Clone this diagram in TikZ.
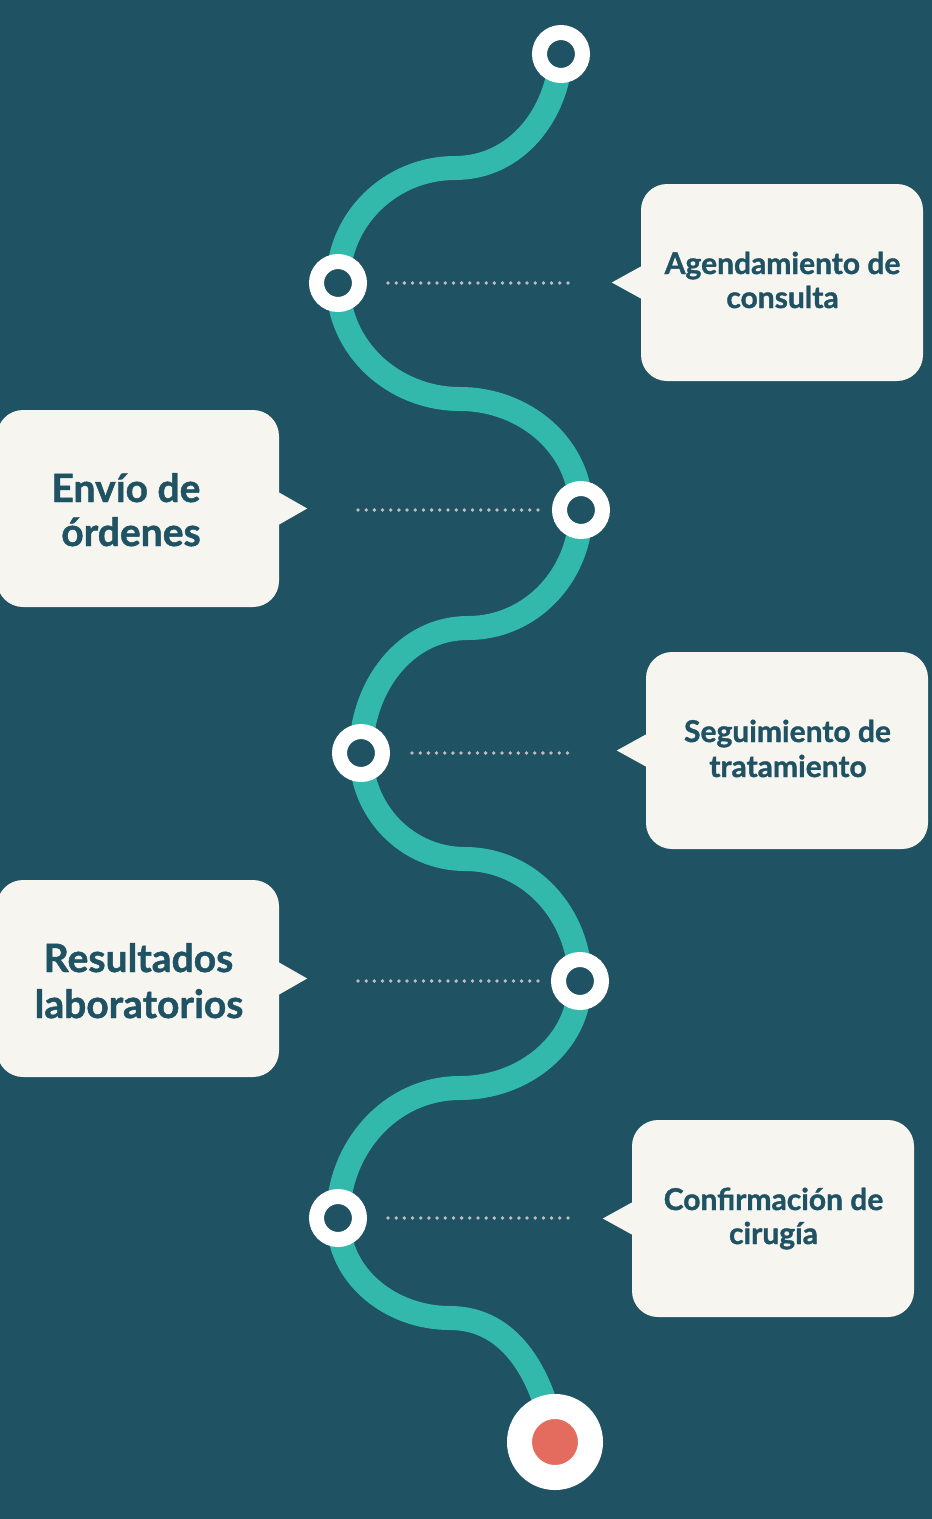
\documentclass[tikz,border=0pt]{standalone}
\usepackage{fontspec}
\newfontfamily\lblfont{Lato}[BoldFeatures={FakeBold=1.2}]
\definecolor{bgc}{HTML}{1F5263}
\definecolor{trackc}{HTML}{33B9AB}
\definecolor{boxc}{HTML}{F7F5F0}
\definecolor{txtc}{HTML}{1F5263}
\definecolor{dotc}{HTML}{BDBDBD}
\definecolor{redc}{HTML}{E46C5F}
\tikzset{
  track/.style={draw=trackc, line width=24pt, line cap=round},
  ring/.style={circle, fill=bgc, draw=white, line width=15pt, minimum size=43pt, inner sep=0pt},
  endring/.style={circle, fill=redc, draw=white, line width=25pt, minimum size=71pt, inner sep=0pt},
  dots/.style={draw=dotc, line width=3.8pt, line cap=round, dash pattern=on 0pt off 8.18pt},
  callout/.style={fill=boxc, rounded corners=26pt, inner sep=0pt, minimum width=282pt, minimum height=197pt},
  rtxt/.style={text=txtc, inner sep=0pt, anchor=base, font=\lblfont\bfseries\fontsize{30}{34}\selectfont},
  ltxt/.style={text=txtc, inner sep=0pt, anchor=base, font=\lblfont\bfseries\fontsize{39}{45}\selectfont},
}
\begin{document}
\begin{tikzpicture}[x=1pt,y=1pt]
\useasboundingbox (0,0) rectangle (932,-1519);
\fill[bgc] (0,0) rectangle (932,-1519);

% path points
\coordinate (c0) at (561,-54);
\coordinate (m0) at (455,-168);
\coordinate (c1) at (338,-283);
\coordinate (m1) at (460,-399);
\coordinate (c2) at (581,-510);
\coordinate (m2) at (468,-628);
\coordinate (c3) at (361,-753);
\coordinate (m3) at (465,-859);
\coordinate (c4) at (580,-981);
\coordinate (m4) at (460,-1088);
\coordinate (c5) at (338,-1218);
\coordinate (m5) at (450,-1318);
\coordinate (c6) at (555,-1442);

\draw[track] (c0) to[out=-93,in=0] (m0) to[out=180,in=90] (c1)
  to[out=-90,in=180] (m1) to[out=0,in=90] (c2)
  to[out=-90,in=0] (m2) to[out=180,in=90] (c3)
  to[out=-90,in=180] (m3) to[out=0,in=90] (c4)
  to[out=-90,in=0] (m4) to[out=180,in=90] (c5)
  to[out=-90,in=180] (m5) to[out=0,in=100] (c6);

% dotted leaders
\coordinate (d1s) at (388,-283);  \coordinate (d1e) at (568.5,-283);
\coordinate (d2s) at (358,-510);  \coordinate (d2e) at (538.5,-510);
\coordinate (d3s) at (412,-753);  \coordinate (d3e) at (568,-753);
\coordinate (d4s) at (358,-981);  \coordinate (d4e) at (538.5,-981);
\coordinate (d5s) at (388,-1218); \coordinate (d5e) at (568.5,-1218);
\draw[dots] (d1s) -- (d1e);
\draw[dots] (d2s) -- (d2e);
\draw[dots] (d3s) -- (d3e);
\draw[dots] (d4s) -- (d4e);
\draw[dots] (d5s) -- (d5e);

% stations
\node[ring] (n0) at (c0) {};
\node[ring] (n1) at (c1) {};
\node[ring] (n2) at (c2) {};
\node[ring] (n3) at (c3) {};
\node[ring] (n4) at (c4) {};
\node[ring] (n5) at (c5) {};
\node[endring] (n6) at (c6) {};

% callouts
\node[callout] (b1) at (782,-282.5) {};
\node[callout] (b2) at (138,-508.5) {};
\node[callout] (b3) at (787,-750.5) {};
\node[callout] (b4) at (138,-978.5) {};
\node[callout] (b5) at (773,-1218.5) {};
\fill[boxc] ([yshift=16pt]b1.west) -- ([xshift=-29pt]b1.west) -- ([yshift=-16pt]b1.west) -- cycle;
\fill[boxc] ([yshift=16pt]b2.east) -- ([xshift=28pt]b2.east) -- ([yshift=-16pt]b2.east) -- cycle;
\fill[boxc] ([yshift=16pt]b3.west) -- ([xshift=-29pt]b3.west) -- ([yshift=-16pt]b3.west) -- cycle;
\fill[boxc] ([yshift=16pt]b4.east) -- ([xshift=28pt]b4.east) -- ([yshift=-16pt]b4.east) -- cycle;
\fill[boxc] ([yshift=16pt]b5.west) -- ([xshift=-29pt]b5.west) -- ([yshift=-16pt]b5.west) -- cycle;

% texts
\node[rtxt] (t1a) at (782.5,-274) {Agendamiento de};
\node[rtxt] (t1b) at (782.5,-308) {consulta};
\node[ltxt] (t2a) at (126,-502) {Envío de};
\node[ltxt] (t2b) at (131,-546) {órdenes};
\node[rtxt] (t3a) at (787.5,-742) {Seguimiento de};
\node[rtxt] (t3b) at (788,-777) {tratamiento};
\node[ltxt] (t4a) at (138.5,-972) {Resultados};
\node[ltxt] (t4b) at (139,-1018) {laboratorios};
\node[rtxt] (t5a) at (773.5,-1210) {Confirmación de};
\node[rtxt] (t5b) at (773.5,-1244) {cirugía};
\end{tikzpicture}
\end{document}
